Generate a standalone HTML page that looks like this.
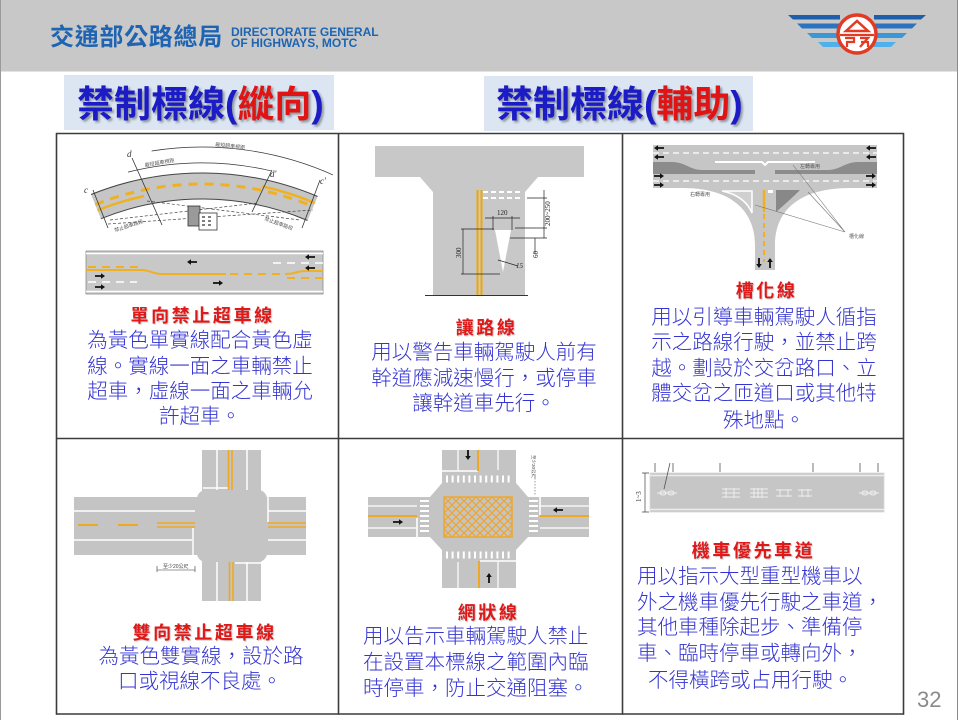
<!DOCTYPE html>
<html><head><meta charset="utf-8">
<style>
html,body{margin:0;padding:0;background:#fff;}
#pg{position:relative;width:960px;height:720px;overflow:hidden;background:#fff;font-family:"Liberation Sans","Noto Sans CJK TC",sans-serif;}
svg{position:absolute;left:0;top:0;}
.t{position:absolute;white-space:nowrap;}
.bt{font-size:37px;line-height:37px;font-weight:bold;color:#1c1cc6;text-shadow:2px 2px 2px rgba(0,0,0,0.35);}
.bt span{color:#e01414;}
.rt{font-size:18px;line-height:26px;font-weight:bold;color:#e01818;letter-spacing:2.6px;text-shadow:1px 1px 1px rgba(0,0,0,0.22);text-align:center;padding-left:2.6px;width:300px;}
.bl{font-size:20.5px;line-height:26px;color:#3434d2;font-family:"Liberation Sans","Noto Sans CJK TC Light","Noto Sans CJK TC",sans-serif;font-weight:300;}
.ce{text-align:center;width:300px;}
</style></head><body>
<div id="pg">
<svg width="960" height="720" viewBox="0 0 960 720" xmlns="http://www.w3.org/2000/svg">
<defs>
<pattern id="hx" width="8" height="8" patternUnits="userSpaceOnUse" x="444" y="497"><path d="M0,0L8,8M8,0L0,8" stroke="#eea630" stroke-width="1.3"/></pattern>
</defs>
<!-- header -->
<rect x="0" y="0" width="958" height="71" fill="#c8c8c8"/>
<line x1="0" y1="71.5" x2="958" y2="71.5" stroke="#e2e2e2" stroke-width="1"/>
<line x1="0.5" y1="0" x2="0.5" y2="720" stroke="#9a9a9a" stroke-width="1"/>
<line x1="957.5" y1="0" x2="957.5" y2="720" stroke="#8a8a8a" stroke-width="1"/>
<!-- logo -->
<polygon points="788,15 840,15 840,19.5 793,19.5" fill="#1f5ea8"/>
<polygon points="797,23.5 840,23.5 840,28.5 802,28.5" fill="#2b73c0"/>
<polygon points="807,33 840,33 840,38 812,38" fill="#3a97d8"/>
<polygon points="818,42 842,42 842,47 823,47" fill="#4fb0ea"/>
<polygon points="926,15 874,15 874,19.5 921,19.5" fill="#1f5ea8"/>
<polygon points="917,23.5 874,23.5 874,28.5 912,28.5" fill="#2b73c0"/>
<polygon points="907,33 874,33 874,38 902,38" fill="#3a97d8"/>
<polygon points="896,42 872,42 872,47 891,47" fill="#4fb0ea"/>
<circle cx="857" cy="34" r="19" fill="#fff" stroke="#e23a23" stroke-width="3.5"/>
<path d="M846,31 L857,21 L868,31 Z" fill="none" stroke="#e23a23" stroke-width="2.5"/>
<line x1="840" y1="35" x2="874" y2="35" stroke="#e23a23" stroke-width="2.2"/>
<path d="M845,38 h9 v4 h-7 v5 M860,38 h8 l-8,9 M861,42 h7 v5" fill="none" stroke="#e23a23" stroke-width="2.2"/>
<!-- title boxes -->
<rect x="64" y="75" width="270" height="55" fill="#dce6f2"/>
<rect x="484" y="76" width="269" height="55" fill="#dce6f2"/>

<!-- ===== Cell 1 : curve ===== -->
<path d="M91.1,194.5 A296,296 0 0 1 317.6,196.5 L307.5,220.5 A270,270 0 0 0 100.9,218.7 Z" fill="#c6c6c6"/>
<path d="M91.1,194.5 A296,296 0 0 1 317.6,196.5" fill="none" stroke="#444" stroke-width="1"/>
<path d="M100.9,218.7 A270,270 0 0 1 307.5,220.5" fill="none" stroke="#444" stroke-width="1"/>
<path d="M95.2,204.7 A285,285 0 0 1 313.4,206.7" fill="none" stroke="#f0b020" stroke-width="3" stroke-dasharray="9 7"/>
<path d="M97.5,210.3 A279,279 0 0 1 144,196.1" fill="none" stroke="#f0b020" stroke-width="2.5"/>
<path d="M262.1,186.3 A289,289 0 0 1 314.9,203" fill="none" stroke="#f0b020" stroke-width="2.5"/>
<path d="M128,172.1 A306,306 0 0 1 270.9,170.8" fill="none" stroke="#333" stroke-width="0.7"/>
<path d="M151.6,151 A322,322 0 0 1 333,174.9" fill="none" stroke="#333" stroke-width="0.7"/>
<line x1="132" y1="158" x2="162" y2="225" stroke="#333" stroke-width="0.8"/>
<line x1="272" y1="170" x2="252" y2="212" stroke="#333" stroke-width="0.8"/>
<line x1="93" y1="190" x2="108" y2="228" stroke="#333" stroke-width="0.8"/>
<line x1="320" y1="180" x2="302" y2="228" stroke="#333" stroke-width="0.8"/>
<path d="M108,224 L313,210 M147,201 L300,220 M110,220 L258,203" fill="none" stroke="#444" stroke-width="0.7" stroke-dasharray="3 2"/>
<rect x="188" y="206" width="12" height="20" fill="#9a9a9a" stroke="#333" stroke-width="0.8"/>
<rect x="199" y="213" width="18" height="17" fill="#fff" stroke="#333" stroke-width="0.8"/>
<path d="M202,217h3M208,217h3M202,221h3M208,221h3M202,225h3M208,225h3" stroke="#333" stroke-width="1.2"/>
<text x="84" y="193" font-family="Liberation Serif,serif" font-style="italic" font-size="9" fill="#333">c</text>
<text x="127" y="157" font-family="Liberation Serif,serif" font-style="italic" font-size="9" fill="#333">d</text>
<text x="270" y="177" font-family="Liberation Serif,serif" font-style="italic" font-size="9" fill="#333">d'</text>
<text x="320" y="184" font-family="Liberation Serif,serif" font-style="italic" font-size="9" fill="#333">c'</text>
<text x="215" y="146" font-size="5" fill="#555" font-family="Liberation Sans,Noto Sans CJK TC,sans-serif" transform="rotate(6 215 146)">最短超車視距</text>
<text x="145" y="167" font-size="5" fill="#555" font-family="Liberation Sans,Noto Sans CJK TC,sans-serif" transform="rotate(-10 145 167)">最短超車視距</text>
<text x="115" y="232" font-size="5" fill="#555" font-family="Liberation Sans,Noto Sans CJK TC,sans-serif" transform="rotate(-18 115 232)">禁止超車路段</text>
<text x="264" y="220" font-size="5" fill="#555" font-family="Liberation Sans,Noto Sans CJK TC,sans-serif" transform="rotate(20 264 220)">禁止超車路段</text>

<!-- Cell 1 : straight road -->
<rect x="86" y="251" width="237" height="43" fill="#c8c8c8" stroke="#8a8a8a" stroke-width="0.8"/>
<line x1="86" y1="253.5" x2="323" y2="253.5" stroke="#fff" stroke-width="1.5"/>
<line x1="86" y1="291.5" x2="323" y2="291.5" stroke="#fff" stroke-width="1.5"/>
<line x1="88" y1="267" x2="142" y2="267" stroke="#f0b020" stroke-width="2" stroke-dasharray="8 6"/>
<path d="M86,270 L142,270 C150,270 152,274 162,274 L226,274" fill="none" stroke="#f0b020" stroke-width="2"/>
<line x1="230" y1="274" x2="285" y2="274" stroke="#f0b020" stroke-width="2" stroke-dasharray="8 6"/>
<path d="M285,274 C295,274 297,271 305,271 L323,271" fill="none" stroke="#f0b020" stroke-width="2"/>
<line x1="287" y1="278" x2="323" y2="278" stroke="#f0b020" stroke-width="2" stroke-dasharray="8 6"/>
<line x1="273" y1="263" x2="323" y2="263" stroke="#fff" stroke-width="1.5" stroke-dasharray="8 6"/>
<line x1="88" y1="282" x2="137" y2="282" stroke="#fff" stroke-width="1.5" stroke-dasharray="8 6"/>
<g fill="#111">
<polygon points="197,261.1 191,261.1 191,259.2 187,262 191,264.8 191,262.9 197,262.9"/>
<polygon points="315,256.1 309,256.1 309,254.2 305,257 309,259.8 309,257.9 315,257.9"/>
<polygon points="315,267.1 309,267.1 309,265.2 305,268 309,270.8 309,268.9 315,268.9"/>
<polygon points="95,275.1 101,275.1 101,273.2 105,276 101,278.8 101,276.9 95,276.9"/>
<polygon points="95,286.1 101,286.1 101,284.2 105,287 101,289.8 101,287.9 95,287.9"/>
<polygon points="213,282.1 219,282.1 219,280.2 223,283 219,285.8 219,283.9 213,283.9"/>
</g>

<!-- ===== Cell 2 : T yield ===== -->
<polygon points="375,146 584,146 584,177 538,177 525,192 525,295 433,295 433,192 420,177 375,177" fill="#c8c8c8"/>
<line x1="425" y1="295.5" x2="528" y2="295.5" stroke="#333" stroke-width="1"/>
<line x1="477.5" y1="190" x2="477.5" y2="295" stroke="#f0a800" stroke-width="2"/>
<line x1="481.5" y1="190" x2="481.5" y2="295" stroke="#f0a800" stroke-width="2"/>
<line x1="483" y1="192" x2="523" y2="192" stroke="#fff" stroke-width="2" stroke-dasharray="5 3"/>
<line x1="483" y1="198" x2="523" y2="198" stroke="#fff" stroke-width="2" stroke-dasharray="5 3"/>
<polygon points="495,230 511,230 503,272" fill="#fff"/>
<g stroke="#222" stroke-width="0.7" fill="none">
<path d="M463,229 V274 M461,229 H494 M461,274 H500"/>
<path d="M493,216 V230 M512,216 V230 M485,218 H520"/>
<path d="M544,190 V238 M527,198 H547 M515,228 H547 M510,238 H547 M535,238 V254"/>
<path d="M498,260 L518,266"/>
</g>
<g font-family="Liberation Serif,serif" font-size="7" fill="#222">
<text x="497" y="215">120</text>
<text x="0" y="0" transform="translate(550,226) rotate(-90)">200~250</text>
<text x="0" y="0" transform="translate(461,258) rotate(-90)">300</text>
<text x="0" y="0" transform="translate(538,258) rotate(-90)">60</text>
<text x="516" y="268" font-style="italic">15</text>
</g>

<!-- ===== Cell 3 : channelization ===== -->
<rect x="653" y="145" width="224" height="43" fill="#c6c6c6"/>
<path d="M683,188 C730,188 755,210 755,245 L755,270 L775,270 L775,245 C775,210 800,188 850,188 Z" fill="#c6c6c6"/>
<line x1="653" y1="153" x2="877" y2="153" stroke="#fff" stroke-width="1.2" stroke-dasharray="6 4"/>
<line x1="653" y1="181" x2="877" y2="181" stroke="#fff" stroke-width="1.2" stroke-dasharray="6 4"/>
<path d="M653,162 L672,162 C685,162 690,170 702,170 L755,170 L755,174 L653,174 Z" fill="#8c8c8c"/>
<path d="M877,162 L858,162 C845,162 840,170 828,170 L775,170 L775,174 L877,174 Z" fill="#8c8c8c"/>
<path d="M715,162 H762 L765,165 L768,162 H815" fill="none" stroke="#fff" stroke-width="2"/>
<path d="M722,191 L752,191 L752,213 C748,203 738,194 722,191 Z" fill="#d0d0d0" stroke="#fff" stroke-width="1.5"/>
<path d="M776,190 L800,190 C792,198 784,205 776,212 Z" fill="#888"/>
<line x1="764" y1="190" x2="764" y2="212" stroke="#f0b020" stroke-width="2.5"/>
<line x1="764" y1="214" x2="764" y2="262" stroke="#f0b020" stroke-width="2" stroke-dasharray="5 4"/>
<rect x="768" y="190" width="5" height="3" fill="#fff"/>
<g fill="#111">
<polygon points="664,147.1 658,147.1 658,145.2 654,148 658,150.8 658,148.9 664,148.9"/>
<polygon points="664,156.1 658,156.1 658,154.2 654,157 658,159.8 658,157.9 664,157.9"/>
<polygon points="654,175.1 660,175.1 660,173.2 664,176 660,178.8 660,176.9 654,176.9"/>
<polygon points="654,184.1 660,184.1 660,182.2 664,185 660,187.8 660,185.9 654,185.9"/>
<polygon points="876,147.1 870,147.1 870,145.2 866,148 870,150.8 870,148.9 876,148.9"/>
<polygon points="876,156.1 870,156.1 870,154.2 866,157 870,159.8 870,157.9 876,157.9"/>
<polygon points="866,175.1 872,175.1 872,173.2 876,176 872,178.8 872,176.9 866,176.9"/>
<polygon points="866,184.1 872,184.1 872,182.2 876,185 872,187.8 872,185.9 866,185.9"/>
<polygon points="758.1,258 758.1,264 756.2,264 759,268 761.8,264 759.9,264 759.9,258"/>
<polygon points="769.1,268 769.1,262 767.2,262 770,258 772.8,262 770.9,262 770.9,268"/>
</g>
<path d="M793,165 L845,232 M808,192 L845,232 M755,205 L845,232" fill="none" stroke="#777" stroke-width="0.6"/>
<g font-family="Liberation Sans,Noto Sans CJK TC,sans-serif" font-size="5" fill="#555">
<text x="849" y="238">槽化線</text>
<text x="690" y="196">右轉專用</text>
<text x="800" y="168">左轉專用</text>
</g>

<!-- ===== Cell 4 : double no-passing ===== -->
<g fill="#c4c4c4">
<rect x="74" y="497" width="232" height="58"/>
<rect x="202" y="450" width="59" height="151"/>
<rect x="197" y="490" width="70" height="72" rx="9"/>
</g>
<g stroke="#fff" stroke-width="1.5">
<line x1="74" y1="511" x2="195" y2="511"/>
<line x1="74" y1="540" x2="192" y2="540"/>
<line x1="193" y1="528" x2="193" y2="555"/>
<line x1="268" y1="511" x2="306" y2="511"/>
<line x1="268" y1="540" x2="306" y2="540"/>
<line x1="268" y1="497" x2="268" y2="522"/>
<line x1="217" y1="450" x2="217" y2="490"/>
<line x1="247" y1="450" x2="247" y2="490"/>
<line x1="203" y1="488" x2="228" y2="488"/>
<line x1="217" y1="562" x2="217" y2="601"/>
<line x1="247" y1="562" x2="247" y2="601"/>
<line x1="235" y1="563" x2="261" y2="563"/>
</g>
<g stroke="#f0a820" stroke-width="1.6">
<line x1="78" y1="525" x2="98" y2="525" stroke-width="2"/>
<line x1="118" y1="525" x2="138" y2="525" stroke-width="2"/>
<line x1="157" y1="523" x2="195" y2="523"/>
<line x1="157" y1="527" x2="195" y2="527"/>
<line x1="268" y1="523" x2="306" y2="523"/>
<line x1="268" y1="527" x2="306" y2="527"/>
<line x1="228.5" y1="450" x2="228.5" y2="490"/>
<line x1="232" y1="450" x2="232" y2="490"/>
<line x1="229.5" y1="562" x2="229.5" y2="601"/>
<line x1="233" y1="562" x2="233" y2="601"/>
</g>
<path d="M157,566 V572 M195,566 V572 M157,570 H195" stroke="#333" stroke-width="0.6" fill="none"/>
<text x="163" y="568" font-family="Liberation Sans,Noto Sans CJK TC,sans-serif" font-size="5" fill="#444">至少20公尺</text>

<!-- ===== Cell 5 : box junction ===== -->
<g fill="#c4c4c4">
<rect x="442" y="450" width="74" height="138"/>
<rect x="368" y="497" width="221" height="40"/>
<polygon points="442,483 516,483 528,497 528,537 516,550 442,550 430,537 430,497"/>
</g>
<g stroke="#fff" fill="none">
<line x1="446" y1="479" x2="512" y2="479" stroke-width="7" stroke-dasharray="2 3.6"/>
<line x1="446" y1="555" x2="512" y2="555" stroke-width="7" stroke-dasharray="2 3.6"/>
<line x1="424.5" y1="500" x2="424.5" y2="535" stroke-width="9" stroke-dasharray="2 3"/>
<line x1="533.5" y1="500" x2="533.5" y2="535" stroke-width="9" stroke-dasharray="2 3"/>
<g stroke-width="1.2">
<line x1="458" y1="450" x2="458" y2="470"/>
<line x1="498" y1="450" x2="498" y2="470"/>
<line x1="442" y1="471" x2="478" y2="471" stroke-width="1.6"/>
<line x1="458" y1="562" x2="458" y2="588"/>
<line x1="498" y1="562" x2="498" y2="588"/>
<line x1="480" y1="561" x2="516" y2="561" stroke-width="1.6"/>
<line x1="368" y1="506" x2="417" y2="506"/>
<line x1="368" y1="528" x2="417" y2="528"/>
<line x1="417" y1="518" x2="417" y2="537" stroke-width="1.6"/>
<line x1="540" y1="506" x2="589" y2="506"/>
<line x1="540" y1="528" x2="589" y2="528"/>
<line x1="540" y1="497" x2="540" y2="515" stroke-width="1.6"/>
</g>
</g>
<g stroke="#f0a820" stroke-width="2" fill="none">
<path d="M478,450 V471"/>
<path d="M479,561 V588"/>
<path d="M368,516 H417"/>
<path d="M540,516 H589"/>
</g>
<rect x="444" y="497" width="68" height="40" fill="url(#hx)" stroke="#eea630" stroke-width="1.5"/>
<g fill="#111">
<polygon points="467.1,450 467.1,456 465.2,456 468,460 470.8,456 468.9,456 468.9,450"/>
<polygon points="393,521.1 399,521.1 399,519.2 403,522 399,524.8 399,522.9 393,522.9"/>
<polygon points="563,509.1 557,509.1 557,507.2 553,510 557,512.8 557,510.9 563,510.9"/>
<polygon points="488.1,583 488.1,577 486.2,577 489,573 491.8,577 489.9,577 489.9,583"/>
</g>
<line x1="535" y1="478" x2="535" y2="496" stroke="#555" stroke-width="0.6" stroke-dasharray="1.5 1.5"/>
<text x="0" y="0" transform="translate(532,455) rotate(90)" font-family="Liberation Sans,Noto Sans CJK TC,sans-serif" font-size="4.5" fill="#555">至少30公尺</text>

<!-- ===== Cell 6 : motorcycle lane ===== -->
<rect x="650" y="473" width="234" height="39" fill="#c6c6c6" stroke="#d8d8d8" stroke-width="0.8"/>
<line x1="650" y1="475.5" x2="884" y2="475.5" stroke="#ececec" stroke-width="1.5"/>
<line x1="650" y1="509.5" x2="884" y2="509.5" stroke="#ececec" stroke-width="1.5"/>
<path d="M655,463V472 M673,463V472 M720,463V472 M813,463V472 M860,463V472 M878,463V472 M670,463 L664,489" stroke="#555" stroke-width="0.8" fill="none"/>
<path d="M645,473V512 M642,473H649 M642,512H649" stroke="#444" stroke-width="0.7" fill="none"/>
<text x="0" y="0" transform="translate(641,502) rotate(-90)" font-family="Liberation Serif,serif" font-size="7" fill="#333">1~3</text>
<g stroke="#eeeeee" stroke-width="1" fill="none">
<path d="M657,493 H677"/><ellipse cx="663" cy="493" rx="3" ry="2"/><ellipse cx="671" cy="493" rx="3" ry="2"/>
<path d="M859,493 H879"/><ellipse cx="865" cy="493" rx="3" ry="2"/><ellipse cx="873" cy="493" rx="3" ry="2"/>
<path d="M722,489 h18 M722,493 h18 M722,497 h18 M726,488 v10 M734,488 v10"/>
<path d="M750,489 h18 M750,493 h18 M750,497 h18 M754,488 v10 M758,488 v10 M762,488 v10"/>
<path d="M776,490 h16 M776,496 h16 M780,489 v8 M788,489 v8"/>
<path d="M798,490 h14 M798,496 h14 M802,489 v8 M808,489 v8"/>
</g>

<!-- grid -->
<g stroke="#3c3c3c" stroke-width="1.6" fill="none">
<line x1="56" y1="133.5" x2="904" y2="133.5"/>
<line x1="56" y1="438.5" x2="904" y2="438.5"/>
<line x1="56" y1="714" x2="904" y2="714"/>
<line x1="56.5" y1="133" x2="56.5" y2="714.8"/>
<line x1="338.5" y1="133" x2="338.5" y2="714.8"/>
<line x1="622.5" y1="133" x2="622.5" y2="714.8"/>
<line x1="903.5" y1="133" x2="903.5" y2="714.8"/>
</g>
</svg>

<!-- header text -->
<div class="t" style="left:50px;top:26px;font-size:24px;line-height:24px;font-weight:bold;color:#1e64b2;letter-spacing:0.7px;">交通部公路總局</div>
<div class="t" style="left:231px;top:25.8px;font-size:12px;line-height:12px;font-weight:bold;color:#1e64b2;">DIRECTORATE GENERAL</div>
<div class="t" style="left:231px;top:36.6px;font-size:12px;line-height:12px;font-weight:bold;color:#1e64b2;">OF HIGHWAYS, MOTC</div>

<!-- big titles -->
<div class="t bt" style="left:77px;top:86px;">禁制標線(<span>縱向</span>)</div>
<div class="t bt" style="left:496px;top:86px;">禁制標線(<span>輔助</span>)</div>

<!-- cell 1 -->
<div class="t rt" style="left:50px;top:303px;">單向禁止超車線</div>
<div class="t bl ce" style="left:50px;top:327.5px;">為黃色單實線配合黃色虛</div>
<div class="t bl ce" style="left:50px;top:353.5px;">線。實線一面之車輛禁止</div>
<div class="t bl ce" style="left:50px;top:379px;">超車，虛線一面之車輛允</div>
<div class="t bl ce" style="left:50px;top:404px;">許超車。</div>

<!-- cell 2 -->
<div class="t rt" style="left:334px;top:314.5px;">讓路線</div>
<div class="t bl ce" style="left:334px;top:340px;">用以警告車輛駕駛人前有</div>
<div class="t bl ce" style="left:334px;top:366px;">幹道應減速慢行，或停車</div>
<div class="t bl ce" style="left:334px;top:391px;">讓幹道車先行。</div>

<!-- cell 3 -->
<div class="t rt" style="left:614px;top:278px;">槽化線</div>
<div class="t bl ce" style="left:614px;top:305px;">用以引導車輛駕駛人循指</div>
<div class="t bl ce" style="left:614px;top:330px;">示之路線行駛，並禁止跨</div>
<div class="t bl ce" style="left:614px;top:356px;">越。劃設於交岔路口、立</div>
<div class="t bl ce" style="left:614px;top:381px;">體交岔之匝道口或其他特</div>
<div class="t bl ce" style="left:614px;top:407.5px;">殊地點。</div>

<!-- cell 4 -->
<div class="t rt" style="left:52px;top:619.5px;">雙向禁止超車線</div>
<div class="t bl ce" style="left:51px;top:643.5px;">為黃色雙實線，設於路</div>
<div class="t bl ce" style="left:50px;top:668.5px;">口或視線不良處。</div>

<!-- cell 5 -->
<div class="t rt" style="left:336px;top:599.5px;">網狀線</div>
<div class="t bl" style="left:363px;top:623.5px;">用以告示車輛駕駛人禁止</div>
<div class="t bl" style="left:363px;top:650px;">在設置本標線之範圍內臨</div>
<div class="t bl" style="left:363px;top:676px;">時停車，防止交通阻塞。</div>

<!-- cell 6 -->
<div class="t rt" style="left:601px;top:538px;">機車優先車道</div>
<div class="t bl" style="left:637px;top:563.5px;">用以指示大型重型機車以</div>
<div class="t bl" style="left:637px;top:590px;">外之機車優先行駛之車道，</div>
<div class="t bl" style="left:637px;top:615px;">其他車種除起步、準備停</div>
<div class="t bl" style="left:637px;top:641px;">車、臨時停車或轉向外，</div>
<div class="t bl" style="left:648px;top:667.5px;">不得橫跨或占用行駛。</div>

<!-- page number -->
<div class="t" style="left:917px;top:689px;font-size:22px;line-height:22px;color:#8a8a8a;">32</div>
</div>
</body></html>
